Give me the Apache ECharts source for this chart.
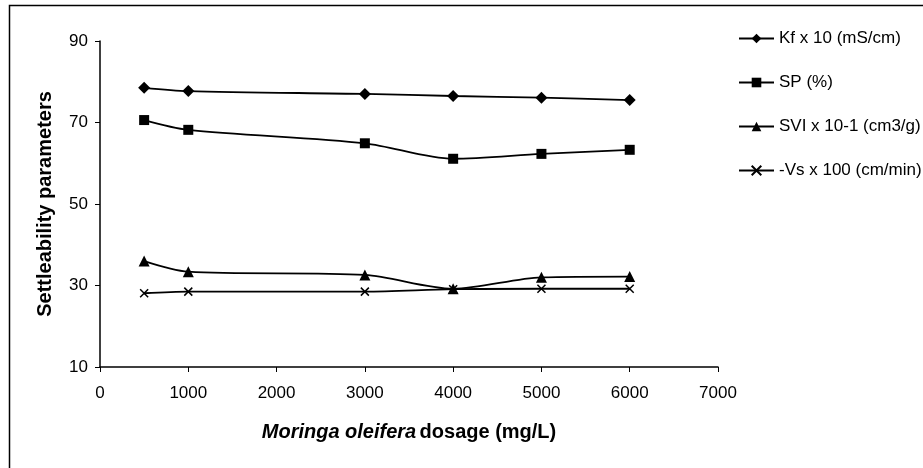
<!DOCTYPE html>
<html>
<head>
<meta charset="utf-8">
<script src="https://cdn.jsdelivr.net/npm/echarts@6/dist/echarts.min.js"></script>
<style>
  html, body { margin: 0; padding: 0; background: #fff; }
  #chart1 { width: 923px; height: 468px; }
</style>
</head>
<body>
<div id="chart1"></div>
<script>
// dosage (mg/L)
const dosage = [500, 1000, 3000, 4000, 5000, 6000];
// series values
const kf = [78.5, 77.7, 77.0, 76.5, 76.1, 75.5];
const sp = [70.6, 68.2, 64.9, 61.1, 62.3, 63.3];
const svi = [36.0, 33.4, 32.6, 29.2, 32.0, 32.2];
const vs = [28.1, 28.5, 28.5, 29.1, 29.2, 29.2];
const names = ['Kf x 10 (mS/cm)', 'SP (%)', 'SVI x 10-1 (cm3/g)', '-Vs x 100 (cm/min)'];

const font = 'Liberation Sans, Arial, sans-serif';
const pairs = arr => dosage.map((d, i) => [d, arr[i]]);
const crossSym = 'path://M0,0L10,10M10,0L0,10';

function mkSeries (name, arr, symbol, size) {
  return {
    name: name,
    type: 'line',
    smooth: 0.3,
    data: pairs(arr),
    symbol: symbol,
    symbolSize: size,
    lineStyle: { color: '#000', width: 1.8 },
    itemStyle: { color: '#000', borderColor: '#000', borderWidth: symbol === crossSym ? 1.5 : 0 },
    emphasis: { disabled: true }
  };
}

const option = {
  animation: false,
  backgroundColor: '#fff',
  textStyle: { fontFamily: font, color: '#000' },
  graphic: [{
    type: 'rect',
    shape: { x: 9.5, y: 5.5, width: 1000, height: 1000 },
    style: { fill: 'none', stroke: '#000', lineWidth: 1.5 },
    silent: true
  }],
  grid: { left: 100, top: 41, width: 618, height: 326 },
  legend: {
    orient: 'vertical',
    left: 733,
    top: 25,
    itemWidth: 35,
    itemHeight: 12,
    itemGap: 27,
    textStyle: { fontSize: 17, color: '#000', fontFamily: font },
    data: names
  },
  xAxis: {
    type: 'value',
    min: 0,
    max: 7000,
    interval: 1000,
    splitLine: { show: false },
    axisLine: { lineStyle: { color: '#000', width: 1.5 } },
    axisTick: { length: 5, lineStyle: { color: '#000' } },
    axisLabel: { fontSize: 17, color: '#000', margin: 18, fontFamily: font, formatter: v => String(v) },
    name: '{bi|Moringa oleifera} {b|dosage (mg/L)}',
    nameLocation: 'middle',
    nameGap: 55,
    nameTextStyle: {
      rich: {
        bi: { fontSize: 20, fontWeight: 'bold', fontStyle: 'italic', color: '#000', fontFamily: font },
        b: { fontSize: 20, fontWeight: 'bold', color: '#000', fontFamily: font }
      }
    }
  },
  yAxis: {
    type: 'value',
    min: 10,
    max: 90,
    interval: 20,
    splitLine: { show: false },
    axisLine: { show: true, lineStyle: { color: '#000', width: 1.5 } },
    axisTick: { show: true, length: 5, lineStyle: { color: '#000' } },
    axisLabel: { fontSize: 17, color: '#000', margin: 12, fontFamily: font },
    name: 'Settleability parameters',
    nameLocation: 'middle',
    nameGap: 45,
    nameTextStyle: { fontSize: 20, fontWeight: 'bold', color: '#000', fontFamily: font }
  },
  series: [
    mkSeries(names[0], kf, 'diamond', 12),
    mkSeries(names[1], sp, 'rect', 10),
    mkSeries(names[2], svi, 'triangle', 11),
    mkSeries(names[3], vs, crossSym, 8)
  ]
};

const mycharts = echarts.init(document.getElementById('chart1'));
mycharts.setOption(option);
</script>
</body>
</html>
